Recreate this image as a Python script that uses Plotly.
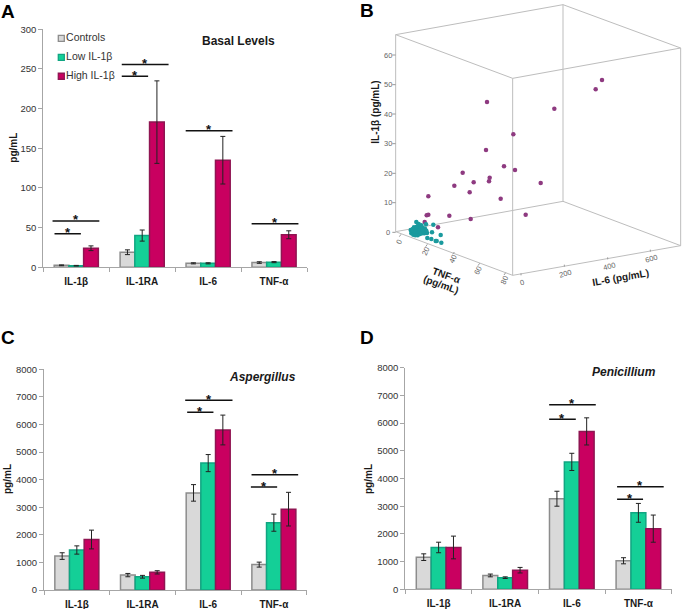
import plotly.graph_objects as go

W, H = 685, 609
FONT = "Liberation Sans"

categories = ["IL-1β", "IL-1RA", "IL-6", "TNF-α"]
group_names = ["Controls", "Low IL-1β", "High IL-1β"]
fills = ["#d9d9d9", "#14cf97", "#c90060"]
edges = ["#8c8c8c", "#11a582", "#8f1552"]

# panel A, basal levels
basal_values = [[2.5, 19, 5, 6], [2, 40, 5, 6.5], [24, 183, 135, 41]]
basal_errors = [[0.5, 3, 0.7, 1], [0.4, 7, 0.7, 0.7], [3, 52, 30, 5]]
basal_sig = [(-0.36, 0.35, 58.4), (-0.33, 0.07, 42.4), (0.69, 1.40, 255.5),
             (0.69, 1.09, 240.8), (1.66, 2.37, 172), (2.66, 3.37, 55)]

# panel C, Aspergillus
asp_values = [[1230, 540, 3520, 920], [1450, 480, 4600, 2440], [1830, 640, 5800, 2930]]
asp_errors = [[120, 60, 300, 90], [150, 50, 310, 310], [340, 60, 540, 610]]
asp_sig = [(1.65, 2.37, 6876), (1.68, 2.08, 6440), (2.66, 3.37, 4180), (2.65, 3.05, 3733)]

# panel D, Penicillium
pen_values = [[1160, 500, 3270, 1030], [1510, 420, 4600, 2760], [1510, 690, 5700, 2190]]
pen_errors = [[120, 50, 270, 110], [190, 30, 310, 340], [410, 100, 490, 490]]
pen_sig = [(1.66, 2.36, 6664), (1.66, 2.06, 6137), (2.68, 3.38, 3704), (2.68, 3.07, 3249)]

# panel B, the 3D cloud (projected position)
high_x = [786, 767, 643, 441, 520, 438, 492, 525, 368, 449, 447, 401, 602, 343, 389, 482,
          265, 557, 260, 265, 328, 392, 254, 294]
high_y = [240, 268, 326, 306, 403, 450, 499, 510, 518, 533, 544, 547, 549, 557, 577, 596,
          589, 644, 646, 644, 647, 657, 666, 682]
low_x = [280, 276, 302, 262, 274, 287, 290, 304, 229, 258, 261,
         212, 215, 218, 220, 222, 225, 228, 230, 232, 235, 238, 240, 243, 245, 248, 250, 253,
         214, 217, 220, 224, 227, 231, 234, 237, 241, 244, 247, 251, 255, 259,
         218, 222, 226, 230, 234, 238, 243, 247, 236, 240, 233, 226]
low_y = [674, 697, 705, 714, 717, 723, 723, 728, 666, 673, 699,
         690, 696, 700, 686, 694, 700, 690, 696, 684, 690, 696, 680, 688, 694, 684, 692, 700,
         700, 692, 704, 702, 684, 702, 678, 686, 698, 676, 700, 696, 686, 692,
         688, 682, 694, 680, 700, 692, 684, 690, 672, 702, 706, 706]

box_x = {"a": 167, "b": 669, "c": 1022, "d": 518, "e": 167, "f": 669, "g": 1022, "h": 518}
box_y = {"a": 104, "b": 14, "c": 144, "d": 235, "e": 695, "f": 604, "g": 737, "h": 826}
box_edges = ["ab", "bc", "cd", "da", "ae", "bf", "cg", "dh", "ef", "fg", "gh", "he"]

il1_ticks = ["0", "10", "20", "30", "40", "50", "60"]
il1_tick_y = [697, 608, 520, 431, 342, 254, 165]
tnf_ticks = ["0", "20", "40", "60", "80"]
tnf_tick_x = [178, 257, 338, 414, 492]
tnf_tick_y = [725, 755, 778, 812, 840]
il6_ticks = ["0", "200", "400", "600"]
il6_tick_x = [547, 677, 807, 935]
il6_tick_y = [846, 820, 798, 775]


def fx(px):
    return px / W


def fy(py):
    return 1 - py / H


fig = go.Figure()
annotations = []


def add_label(px, py, text, size, angle=0, bold=True, color="#1a1a1a"):
    annotations.append(dict(x=fx(px), y=fy(py), xref="paper", yref="paper", text=text,
                            showarrow=False, textangle=angle, xanchor="center", yanchor="middle",
                            font=dict(family=FONT, size=size, color=color)))
    if bold:
        annotations[-1]["text"] = "<b>" + text + "</b>"


def bar_panel(n, left, right, top, bottom, ymax, dtick, values, errors, sig):
    xa, ya = "x" + str(n), "y" + str(n)
    for i in range(3):
        fig.add_trace(go.Bar(x=list(range(4)), y=values[i], xaxis=xa, yaxis=ya, showlegend=False,
                             marker=dict(color=fills[i], line=dict(color=edges[i], width=1.5)),
                             error_y=dict(type="data", array=errors[i], color="#222222",
                                          thickness=1, width=2.5)))
    for x0, x1, y in sig:
        fig.add_trace(go.Scatter(x=[x0, x1], y=[y, y], xaxis=xa, yaxis=ya, mode="lines",
                                 showlegend=False, line=dict(color="#111111", width=1.5)))
        annotations.append(dict(x=(x0 + x1) / 2, y=y, xref=xa, yref=ya, text="<b>*</b>", showarrow=False,
                                yanchor="middle", yshift=1,
                                font=dict(family=FONT, size=13, color="#111111")))
    axis_x = dict(domain=[fx(left), fx(right)], range=[-0.5, 3.5], anchor=ya,
                  tickvals=list(range(4)), ticktext=["<b>" + c + "</b>" for c in categories],
                  ticks="outside", ticklen=5, tickcolor="rgba(0,0,0,0)",
                  tickfont=dict(family=FONT, size=10, color="#1a1a1a"),
                  minor=dict(tickvals=[-0.5, 0.5, 1.5, 2.5, 3.5], ticks="outside", ticklen=4,
                             tickcolor="#a6a6a6"),
                  showline=True, linecolor="#a6a6a6", linewidth=1, showgrid=False, zeroline=False)
    axis_y = dict(domain=[fy(bottom), fy(top)], range=[0, ymax], anchor=xa, dtick=dtick,
                  ticks="outside", ticklen=4, tickcolor="#a6a6a6",
                  tickfont=dict(family=FONT, size=9.5, color="#333333"),
                  showline=True, linecolor="#a6a6a6", linewidth=1, showgrid=False, zeroline=False)
    fig.update_layout({"xaxis" + str(n): axis_x, "yaxis" + str(n): axis_y})


bar_panel(1, 43.3, 307, 29.3, 267.3, 300, 50, basal_values, basal_errors, basal_sig)
bar_panel(3, 44, 306.7, 369.3, 590, 8000, 1000, asp_values, asp_errors, asp_sig)
bar_panel(4, 405.3, 671.7, 367.7, 589.3, 8000, 1000, pen_values, pen_errors, pen_sig)

# legend of panel A sits inside the plot
legend_y = [288.6, 264.7, 240.8]
for i in range(3):
    fig.add_trace(go.Scatter(x=[-0.227], y=[legend_y[i]], xaxis="x1", yaxis="y1",
                             mode="markers+text", text=[group_names[i]], textposition="middle right",
                             showlegend=False,
                             textfont=dict(family=FONT, size=10.5, color="#333333"),
                             marker=dict(symbol="square", size=6, color=fills[i],
                                         line=dict(color=edges[i], width=1.3))))

# panel B: axis units are the projected positions
for e in box_edges:
    fig.add_trace(go.Scatter(x=[box_x[e[0]], box_x[e[1]]], y=[box_y[e[0]], box_y[e[1]]],
                             xaxis="x2", yaxis="y2", mode="lines", showlegend=False,
                             line=dict(color="#bdbdbd", width=1)))
for y in il1_tick_y:
    fig.add_trace(go.Scatter(x=[157, 167], y=[y, y], xaxis="x2", yaxis="y2", mode="lines",
                             showlegend=False, line=dict(color="#9a9a9a", width=1)))
for i in range(5):
    fig.add_trace(go.Scatter(x=[tnf_tick_x[i] + 5, tnf_tick_x[i]],
                             y=[tnf_tick_y[i] - 22, tnf_tick_y[i] - 15],
                             xaxis="x2", yaxis="y2", mode="lines", showlegend=False,
                             line=dict(color="#9a9a9a", width=1)))
for i in range(4):
    fig.add_trace(go.Scatter(x=[il6_tick_x[i] - 4, il6_tick_x[i] - 4],
                             y=[il6_tick_y[i] - 26, il6_tick_y[i] - 20],
                             xaxis="x2", yaxis="y2", mode="lines", showlegend=False,
                             line=dict(color="#9a9a9a", width=1)))
fig.add_trace(go.Scatter(x=high_x, y=high_y, xaxis="x2", yaxis="y2", mode="markers", showlegend=False,
                         marker=dict(color="#8e3a80", size=4.5)))
fig.add_trace(go.Scatter(x=low_x, y=low_y, xaxis="x2", yaxis="y2", mode="markers", showlegend=False,
                         marker=dict(color="#1a9a9e", size=4.5)))
fig.update_layout(
    xaxis2=dict(domain=[fx(340), fx(685)], range=[0, 1035], visible=False, anchor="y2"),
    yaxis2=dict(domain=[fy(300), fy(0)], range=[900, 0], visible=False, anchor="x2"),
)


def bx(v):
    return 340 + v / 3


def by(v):
    return v / 3


for i in range(7):
    add_label(bx(145), by(il1_tick_y[i]), il1_ticks[i], 7.5, bold=False, color="#666666")
for i in range(5):
    add_label(bx(tnf_tick_x[i]), by(tnf_tick_y[i]), tnf_ticks[i], 7.5, angle=-65, bold=False, color="#666666")
for i in range(4):
    add_label(bx(il6_tick_x[i]), by(il6_tick_y[i]), il6_ticks[i], 7.5, angle=-15, bold=False, color="#666666")
add_label(bx(108), by(338), "IL-1β (pg/mL)", 10, angle=-90)
add_label(bx(842), by(832), "IL-6 (pg/mL)", 10, angle=-10)
add_label(bx(320), by(825), "TNF-α", 10, angle=20)
add_label(bx(304), by(852), "(pg/mL)", 10, angle=20)

add_label(12.7, 148, "pg/mL", 10, angle=-90)
add_label(7, 479, "pg/mL", 10, angle=-90)
add_label(368, 479, "pg/mL", 10, angle=-90)

add_label(239, 41, "Basal Levels", 12)
add_label(262, 377, "<i>Aspergillus</i>", 12)
add_label(624, 372, "<i>Penicillium</i>", 12)

add_label(8, 12, "A", 19, color="#000000")
add_label(367, 11, "B", 19, color="#000000")
add_label(8, 337, "C", 19, color="#000000")
add_label(367, 337, "D", 19, color="#000000")

fig.update_layout(width=W, height=H, margin=dict(l=0, r=0, t=0, b=0, pad=0, autoexpand=False),
                  autosize=False, barmode="group", bargap=0.33, bargroupgap=0,
                  plot_bgcolor="white", paper_bgcolor="white", showlegend=False,
                  annotations=annotations)

fig.write_html("out.html", config=dict(displayModeBar=False),
               post_script="document.body.style.margin='0';document.body.style.overflow='hidden';")
